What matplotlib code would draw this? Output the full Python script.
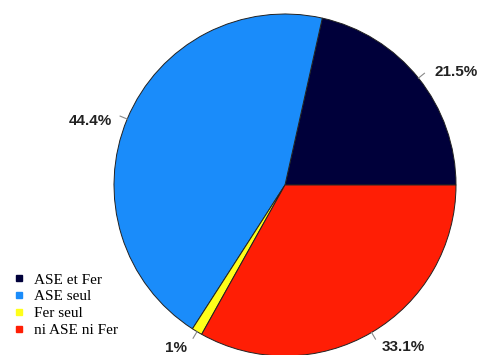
import numpy as np
import matplotlib
matplotlib.use("Agg")
import matplotlib.pyplot as plt
from matplotlib.lines import Line2D

categories = ["ASE et Fer", "ASE seul", "Fer seul", "ni ASE ni Fer"]
values = [21.5, 44.4, 1.0, 33.1]
labels = ["21.5%", "44.4%", "1%", "33.1%"]
colors = ["#00003a", "#1a8cfa", "#ffff1a", "#ff1e05"]

fig = plt.figure(figsize=(4.78, 3.55), dpi=100)
W, H = 478, 355
cx, cy, r = 285, 185, 171
ax = fig.add_axes([(cx - r) / W, (H - cy - r) / H, 2 * r / W, 2 * r / H])
ax.axis("off")

wedges, _ = ax.pie(values, colors=colors, startangle=0, counterclock=True,
                   radius=1.0, wedgeprops=dict(edgecolor="#222222", linewidth=0.7))
ax.set_xlim(-1, 1)
ax.set_ylim(-1, 1)
ax.set_aspect("equal")

offsets = [((10, 1), "left", "center"),
           ((-8, -5), "right", "center"),
           ((-6, -10), "right", "center"),
           ((6, -8), "left", "center")]
for w, lab, (off, ha, va) in zip(wedges, labels, offsets):
    th = np.deg2rad((w.theta1 + w.theta2) / 2)
    p0 = (1.0 * np.cos(th), 1.0 * np.sin(th))
    p1 = (1.045 * np.cos(th), 1.045 * np.sin(th))
    ax.plot([p0[0], p1[0]], [p0[1], p1[1]], color="#888888", lw=0.8, clip_on=False)
    ax.annotate(lab, xy=p1, xytext=off, textcoords="offset pixels",
                ha=ha, va=va, fontsize=11, fontweight="bold",
                family="Liberation Sans", color="#222222", annotation_clip=False)

handles = [Line2D([], [], marker="s", linestyle="none", markersize=4,
                  markerfacecolor=c, markeredgecolor=c) for c in colors]
fig.legend(handles, categories, loc="upper left", bbox_to_anchor=(0.028, (H - 273) / H),
           frameon=False, prop=dict(family="Liberation Serif", size=11),
           handlelength=0.8, handletextpad=0.55, labelspacing=0.2, borderaxespad=0,
           borderpad=0)

fig.savefig("out.png", dpi=100)
